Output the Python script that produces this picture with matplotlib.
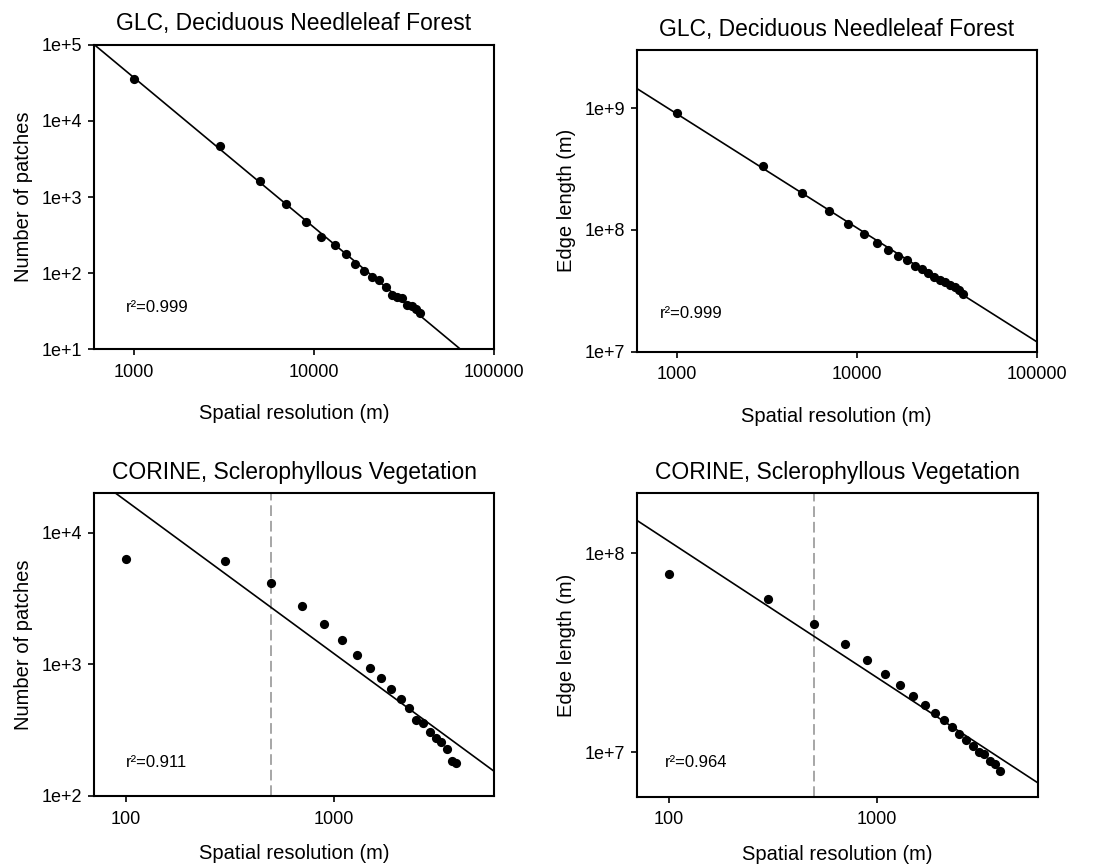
import numpy as np
import matplotlib.pyplot as plt

plt.rcParams['font.family'] = ['Liberation Sans', 'DejaVu Sans']

# GLC, deciduous needleleaf forest
res_glc = [1000, 3000, 5000, 7000, 9000, 11000, 13000, 15000, 17000, 19000,
           21000, 23000, 25000, 27000, 29000, 31000, 33000, 35000, 37000, 39000]
patches_glc = [35700, 4730, 1625, 817, 469, 298, 234, 176, 130, 107,
               89.5, 81, 66, 52, 49, 47, 38, 37, 34, 29.5]
edge_glc = [9.1e8, 3.33e8, 2.01e8, 1.43e8, 1.12e8, 9.2e7, 7.8e7, 6.9e7, 6.1e7, 5.7e7,
            5.1e7, 4.8e7, 4.4e7, 4.1e7, 3.9e7, 3.75e7, 3.56e7, 3.37e7, 3.2e7, 3.0e7]

# CORINE, sclerophyllous vegetation
res_cor = [100, 300, 500, 700, 900, 1100, 1300, 1500, 1700, 1900,
           2100, 2300, 2500, 2700, 2900, 3100, 3300, 3500, 3700, 3900]
patches_cor = [6380, 6120, 4150, 2790, 2025, 1530, 1178, 933, 784, 650,
               542, 469, 378, 361, 308, 274, 256, 228, 185, 177]
edge_cor = [7.88e7, 5.92e7, 4.44e7, 3.51e7, 2.90e7, 2.49e7, 2.17e7, 1.91e7, 1.73e7, 1.57e7,
            1.45e7, 1.34e7, 1.24e7, 1.16e7, 1.08e7, 1.01e7, 9.8e6, 9.1e6, 8.8e6, 8.1e6]

# log10 fit lines: log10(y) = a + b*log10(x)
fit_a = [10.48, 11.762, 6.561, 9.426]
fit_b = [-1.97, -0.936, -1.159, -0.683]
r2 = ["0.999", "0.999", "0.911", "0.964"]
threshold = 500

titles = ["GLC, Deciduous Needleleaf Forest", "GLC, Deciduous Needleleaf Forest",
          "CORINE, Sclerophyllous Vegetation", "CORINE, Sclerophyllous Vegetation"]
ylabels = ["Number of patches", "Edge length (m)", "Number of patches", "Edge length (m)"]

panels = [
    (res_glc, patches_glc, (600, 100000), (1e1, 1e5), [1000, 10000, 100000], [1e1, 1e2, 1e3, 1e4, 1e5]),
    (res_glc, edge_glc, (600, 100000), (1e7, 3e9), [1000, 10000, 100000], [1e7, 1e8, 1e9]),
    (res_cor, patches_cor, (70, 5950), (1e2, 2e4), [100, 1000], [1e2, 1e3, 1e4]),
    (res_cor, edge_cor, (70, 5950), (6e6, 2e8), [100, 1000], [1e7, 1e8]),
]
boxes = [
    [0.0854, 0.5965, 0.3633, 0.3515],
    [0.5783, 0.5934, 0.3633, 0.3488],
    [0.0854, 0.0798, 0.3636, 0.3499],
    [0.5783, 0.0790, 0.3642, 0.3507],
]
txt_pos = [(0.08, 0.138), (0.058, 0.128), (0.08, 0.109), (0.07, 0.112)]
title_pad = [11, 10, 10, 10]
xlab_pad = [17, 17, 12, 12]

fig = plt.figure(figsize=(11.01, 8.65), dpi=100)

for i, (xs, ys, xl, yl, xt, yt) in enumerate(panels):
    ax = fig.add_axes(boxes[i])
    ax.set_xscale('log')
    ax.set_yscale('log')
    ax.set_xlim(xl)
    ax.set_ylim(yl)

    if i >= 2:
        ax.axvline(threshold, color='0.65', lw=1.4, ls=(0, (5.5, 2.5)), zorder=1)

    lx = np.array(xl, dtype=float)
    ly = 10 ** (fit_a[i] + fit_b[i] * np.log10(lx))
    ax.plot(lx, ly, color='black', lw=1.2, zorder=2)
    ax.scatter(xs, ys, s=44, color='black', zorder=3, linewidths=0)

    ax.set_xticks(xt)
    ax.set_xticklabels([str(v) for v in xt])
    ax.set_yticks(yt)
    ax.set_yticklabels(["1e+%d" % round(np.log10(v)) for v in yt])
    ax.minorticks_off()
    ax.tick_params(direction='out', length=4.5, width=1.2, labelsize=13, pad=4)
    ax.tick_params(axis='x', pad=6)
    for s in ax.spines.values():
        s.set_linewidth(1.5)

    ax.set_title(titles[i], fontsize=16.5, pad=title_pad[i])
    ax.set_xlabel("Spatial resolution (m)", fontsize=14.5, labelpad=xlab_pad[i])
    ax.set_ylabel(ylabels[i], fontsize=14.5, labelpad=6)
    ax.text(txt_pos[i][0], txt_pos[i][1], "r\u00b2=" + r2[i], transform=ax.transAxes,
            fontsize=12, va='center', ha='left')

fig.savefig("out.png", dpi=100)
